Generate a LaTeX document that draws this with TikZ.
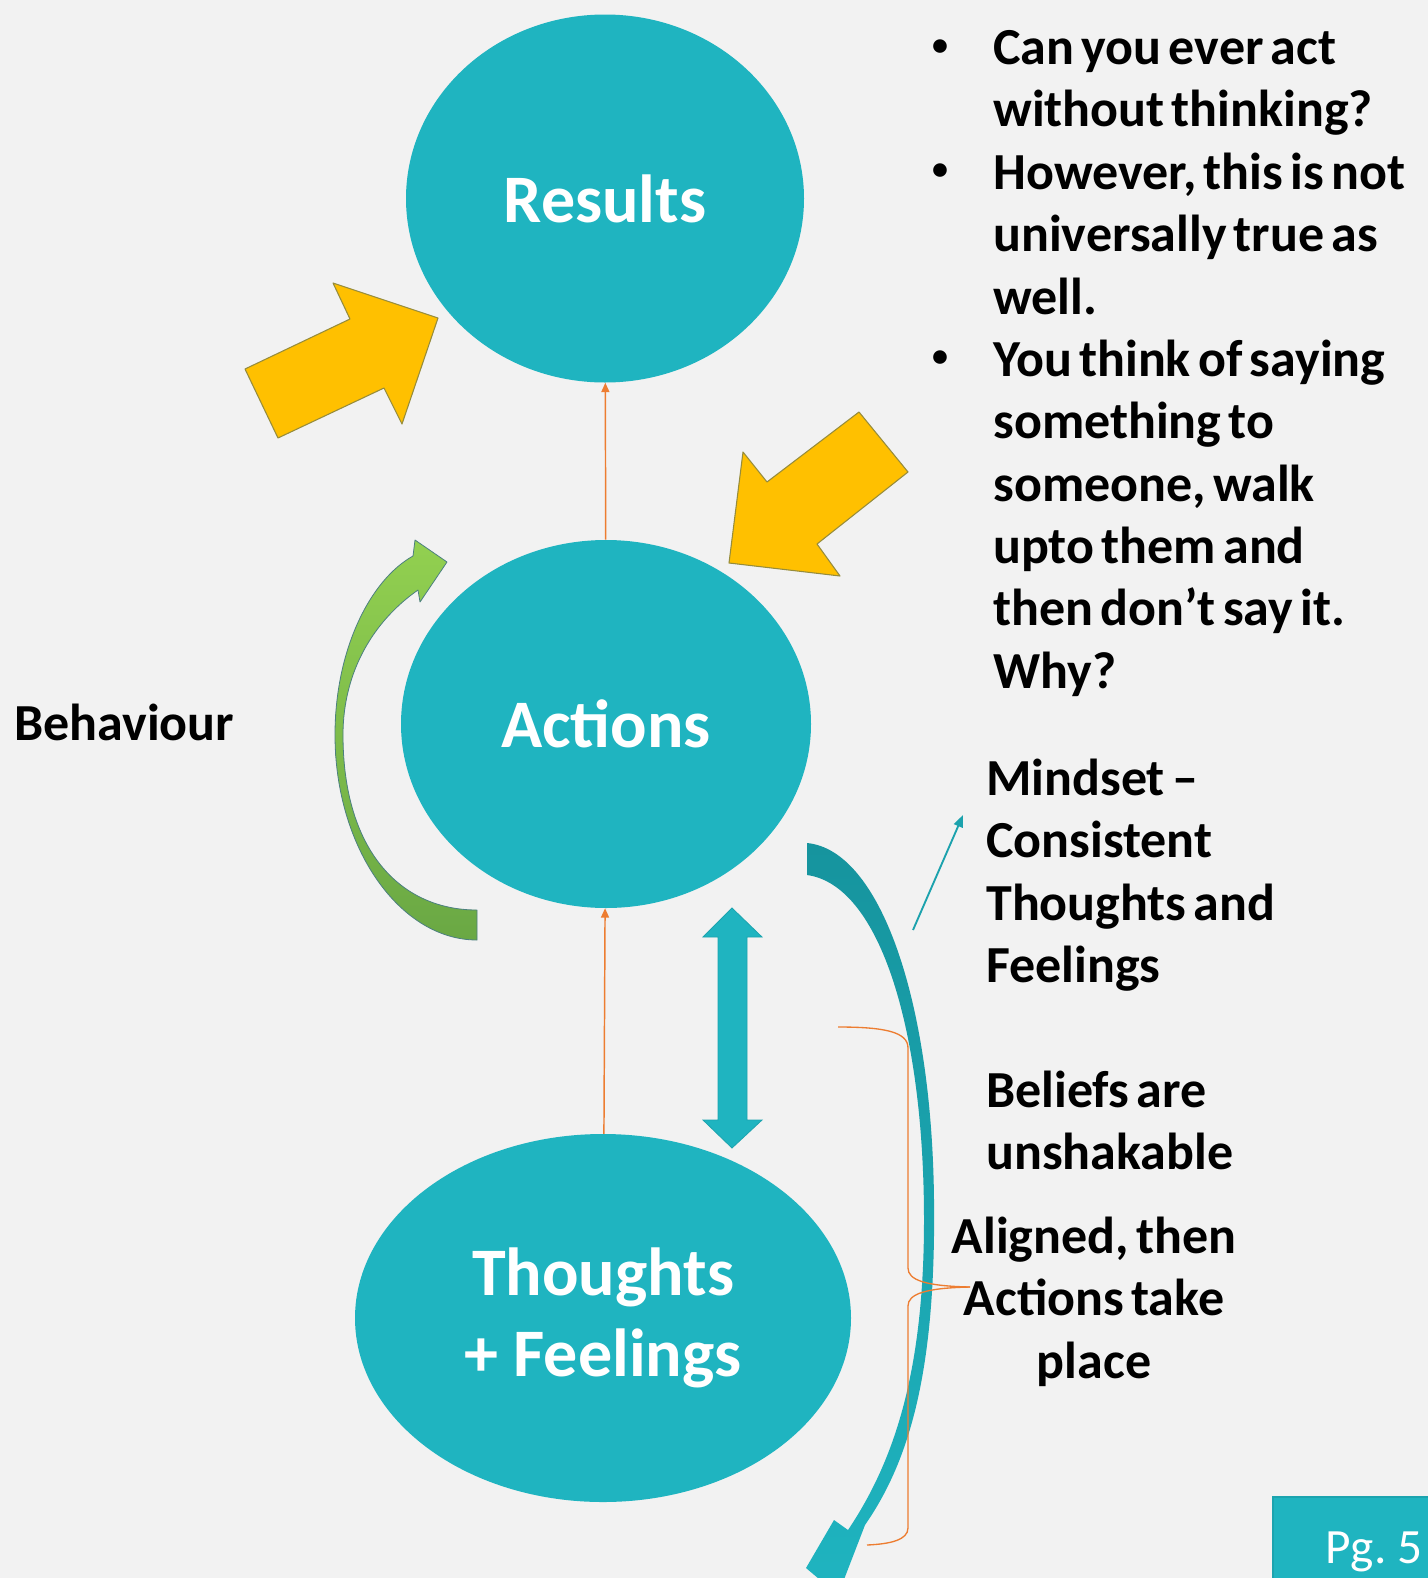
\documentclass[tikz,border=0pt]{standalone}
\usepackage{fontspec}
\setmainfont{Carlito}
\usetikzlibrary{arrows.meta,shapes.geometric}

\definecolor{slideGray}{RGB}{242,242,242}
\definecolor{ovalTeal}{RGB}{31,180,192}
\definecolor{ovalEdge}{RGB}{28,164,175}
\definecolor{deepTeal}{RGB}{22,148,158}
\definecolor{arrowGold}{RGB}{255,192,0}
\definecolor{goldEdge}{RGB}{150,140,60}
\definecolor{leafLight}{RGB}{146,208,80}
\definecolor{leafDark}{RGB}{106,168,68}
\definecolor{linkOrange}{RGB}{237,125,49}

\newcommand{\tightspace}{\spaceskip=0.14em plus 0.05em\relax}

\tikzset{
  oval/.style={ellipse, fill=ovalTeal, inner sep=0pt, minimum height=276pt, text=white, align=center, font=\fontsize{51}{60.4}\selectfont\bfseries},
  bodytext/.style={inner sep=0pt, font=\fontsize{39}{46.8}\selectfont\bfseries\tightspace},
  bulletdot/.style={inner sep=0pt, font=\fontsize{24}{28}\selectfont\bfseries},
  flow/.style={draw=linkOrange, line width=1.1pt, -{Triangle[length=7pt,width=6pt]}},
  blockarrow/.style={fill=arrowGold, draw=goldEdge, line width=0.8pt, line join=round},
}

\begin{document}
\begin{tikzpicture}[x=0.75pt,y=0.75pt,yscale=-1,xscale=1]
    \useasboundingbox (0,0) rectangle (1428,1578);
    \fill[slideGray] (0,0) rectangle (1428,1578);

    %Shape: Ellipse nodes
    \node[oval, minimum width=298.5pt] (results) at (605,198.5) {Results};
    \node[oval, minimum width=307.5pt] (actions) at (606,724) {Actions};
    \node[oval, minimum width=372pt] (thoughts) at (603,1318) {Thoughts\\+ Feelings};

    % Straight links
    \draw[flow] (actions) -- (results);
    \draw[flow] (thoughts) -- (actions);

    %Shape: Right Arrow (lower left of Results)
    \draw[blockarrow] (278,438) -- (245,369) -- (350,319) -- (333,283) -- (438,318) -- (402,424) -- (384,388) -- cycle;
    %Shape: Right Arrow (upper right of Actions)
    \draw[blockarrow] (859,412) -- (908,472) -- (817,544) -- (840,576) -- (729,563) -- (743,452) -- (767,482) -- cycle;

    %Shape: Curved Right Arrow
    \path[top color=leafLight, bottom color=leafDark, draw=gray!60!teal, line width=0.6pt, line join=round] (477,940) .. controls (400,940) and (335,848) .. (335,735) .. controls (335,650) and (370,580) .. (413,556) -- (415,540) -- (447,562) -- (420,602) -- (418,590) .. controls (375,620) and (343,670) .. (343,735) .. controls (343,850) and (400,910) .. (477,910) -- cycle;

    %Shape: Curved Left Arrow
    \path[top color=deepTeal, bottom color=ovalTeal] (807,843) .. controls (880,850) and (932,1000) .. (934,1200) .. controls (936,1370) and (910,1460) .. (865,1525) -- (838,1595) -- (806,1568) -- (834,1520) -- (848,1530) .. controls (895,1460) and (924,1370) .. (924,1220) .. controls (924,1030) and (880,885) .. (807,875) -- cycle;

    %Shape: Up-Down Arrow
    \draw[fill=ovalTeal, draw=ovalEdge, line width=0.6pt] (732,908) -- (762,937) -- (747,937) -- (747,1120) -- (762,1120) -- (732,1148) -- (703,1120) -- (718,1120) -- (718,937) -- (703,937) -- cycle;

    %Shape: Right Brace
    \coordinate (braceTip) at (970,1287);
    \draw[linkOrange, line width=1pt] (838,1027) .. controls (885,1027) and (908,1032) .. (908,1048) -- (908,1268) .. controls (908,1280) and (925,1286) .. (braceTip);
    \draw[linkOrange, line width=1pt] (braceTip) .. controls (925,1288) and (908,1294) .. (908,1306) -- (908,1528) .. controls (908,1540) and (890,1544) .. (867,1545);

    % Pointer to the mindset note
    \coordinate (mindTail) at (913,930);
    \coordinate (mindHead) at (963,815);
    \draw[ovalTeal!90!black, line width=1.4pt, -{Triangle[length=9pt,width=7pt]}] (mindTail) -- (mindHead);

    % Text Node
    \node[bulletdot] (dotA) at (940,47.3) {•};
    % Text Node
    \node[bodytext, anchor=north west, align=left] (askA) at (993,20.3) {\strut Can you ever act\\without thinking?};
    % Text Node
    \node[bulletdot] (dotB) at (940,172) {•};
    % Text Node
    \node[bodytext, anchor=north west, align=left] (askB) at (993,145.3) {\strut However, this is not\\universally true as\\well.};
    % Text Node
    \node[bulletdot] (dotC) at (940,359) {•};
    % Text Node
    \node[bodytext, anchor=north west, align=left] (askC) at (993,332.3) {\strut You think of saying\\something to\\someone, walk\\upto them and\\then don’t say it.\\Why?};
    % Text Node
    \node[bodytext, anchor=base west] (behaviour) at (14,740) {Behaviour};
    % Text Node
    \node[bodytext, anchor=north west, align=left] (mindset) at (986,751.3) {\strut Mindset –\\Consistent\\Thoughts and\\Feelings};
    % Text Node
    \node[bodytext, anchor=north west, align=left] (beliefs) at (986,1063.3) {\strut Beliefs are\\unshakable};
    % Text Node
    \node[bodytext, anchor=north, align=center] (aligned) at (1094,1209.3) {\strut Aligned, then\\Actions take\\place};

    % Page tag
    \draw[fill=ovalTeal, draw=ovalEdge, line width=0.8pt] (1273,1497) rectangle (1440,1590);
    \node[inner sep=0pt, anchor=base west, text=white, font=\fontsize{37}{44}\selectfont\tightspace] (pagetag) at (1325,1563) {Pg. 5};
\end{tikzpicture}
\end{document}
